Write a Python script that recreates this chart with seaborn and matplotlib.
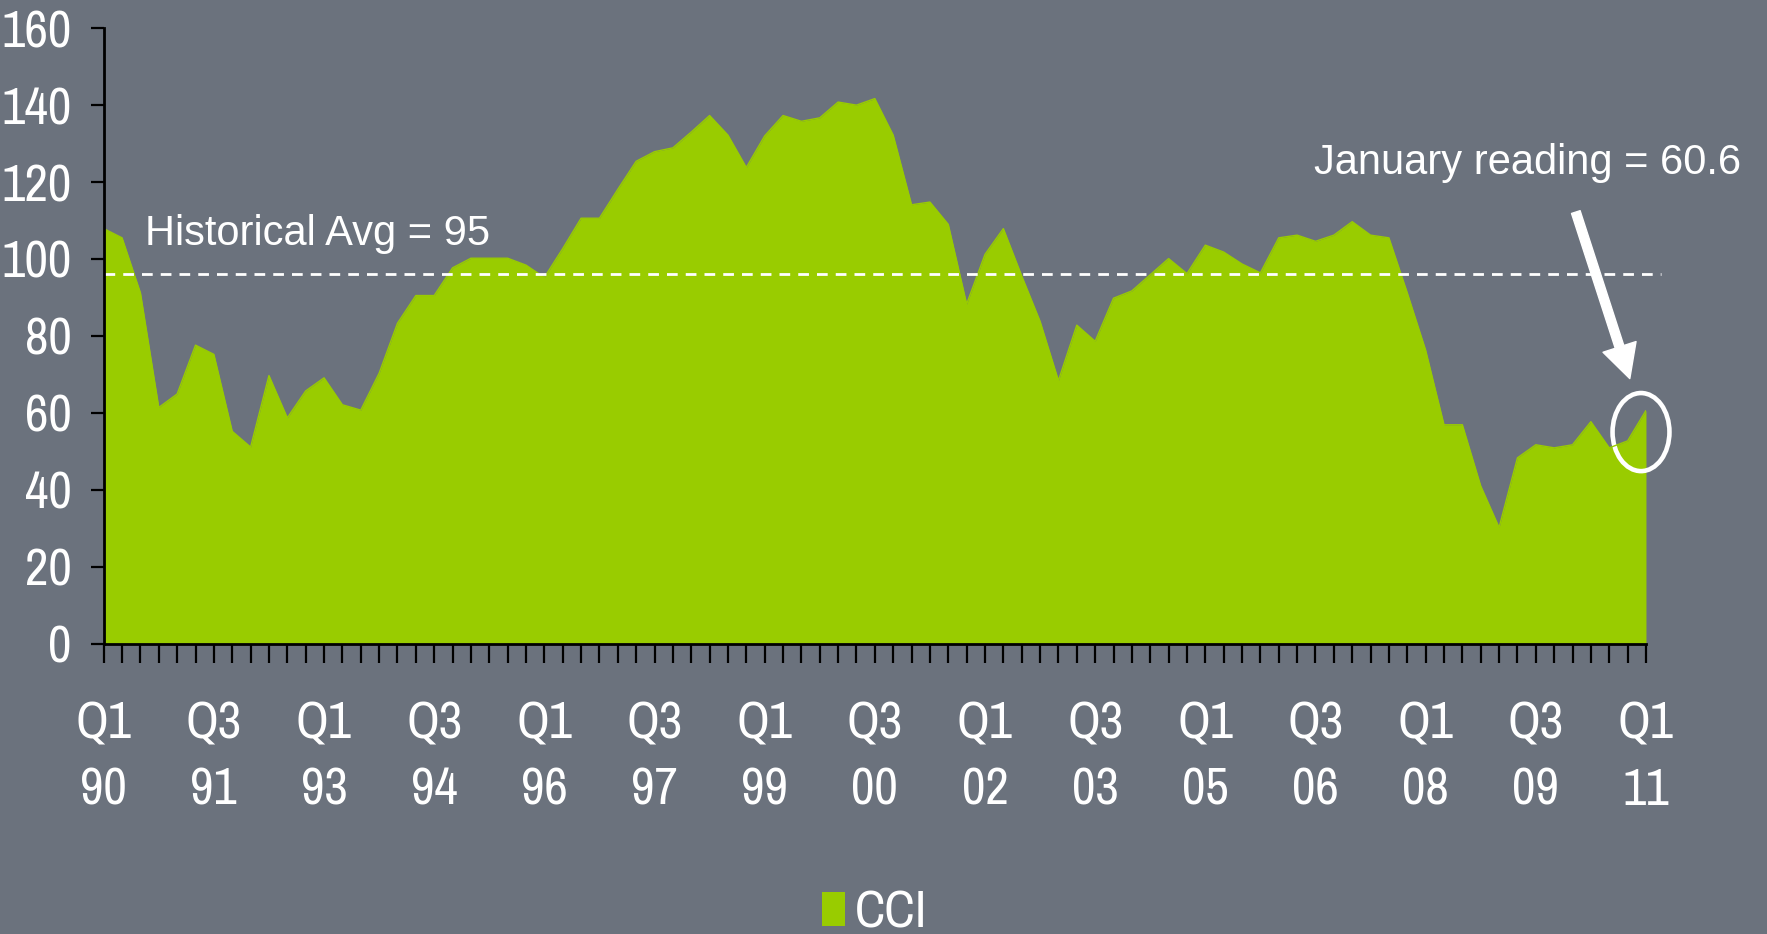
import matplotlib
matplotlib.use("Agg")
import matplotlib.pyplot as plt
from matplotlib.patches import Ellipse
import numpy as np
import pandas as pd
import seaborn as sns

# CCI, quarterly Q1 1990 .. Q1 2011
cci = [107.9, 105.5, 91.2, 61.4,
       64.9, 77.6, 75.2, 55.2,
       51.1, 69.7, 58.7, 65.7,
       69.1, 62.1, 60.7, 70.3,
       83.3, 90.5, 90.5, 97.7,
       100.2, 100.2, 100.2, 98.4,
       95.2, 102.7, 110.6, 110.6,
       118.1, 125.4, 127.9, 128.9,
       133.0, 137.3, 132.2, 123.8,
       132.0, 137.3, 135.8, 136.7,
       140.8, 140.0, 141.7, 132.2,
       114.1, 114.8, 109.0, 88.3,
       101.2, 107.9, 95.6, 83.8,
       68.4, 82.8, 78.6, 89.8,
       91.7, 95.9, 100.1, 96.2,
       103.6, 101.8, 98.7, 96.4,
       105.5, 106.2, 104.6, 106.2,
       109.7, 106.2, 105.5, 91.2,
       76.3, 56.9, 56.9, 41.0,
       30.2, 48.3, 51.7, 50.9,
       51.7, 57.7, 50.9, 52.7,
       60.6]
hist_avg = 96
x_labels = ["Q1\n90", "Q3\n91", "Q1\n93", "Q3\n94", "Q1\n96", "Q3\n97", "Q1\n99", "Q3\n00",
            "Q1\n02", "Q3\n03", "Q1\n05", "Q3\n06", "Q1\n08", "Q3\n09", "Q1\n11"]
y_ticks = [0, 20, 40, 60, 80, 100, 120, 140, 160]

bg = "#6B727D"
green = "#99CC00"

sns.set_theme(style="ticks")
narrow = ["Archivo Narrow", "Roboto Condensed", "Liberation Sans", "DejaVu Sans"]
plt.rcParams["font.family"] = narrow

df = pd.DataFrame({"t": np.arange(len(cci)), "CCI": cci})

fig = plt.figure(figsize=(17.67, 9.34), dpi=100, facecolor=bg)
ax = fig.add_axes([0.0587, 0.3109, 0.8728, 0.6589])
ax.set_facecolor(bg)

sns.lineplot(data=df, x="t", y="CCI", color=green, lw=1, ax=ax, legend=False)
ax.fill_between(df["t"], 0, df["CCI"], color=green, lw=0, label="CCI")

ax.plot([0, 84.8], [hist_avg, hist_avg], color="white", lw=2, dashes=(3.85, 2.9), clip_on=False)

ax.set_xlim(0, len(cci) - 1)
ax.set_ylim(0, 160)
ax.set_xlabel("")
ax.set_ylabel("")

ax.set_xticks(df["t"], minor=True)
ax.set_xticks(df["t"][::6], x_labels)
ax.set_yticks(y_ticks)
ax.tick_params(axis="x", which="both", length=14, width=1.6, color="black", direction="out")
ax.tick_params(axis="x", which="major", labelsize=37, labelcolor="white", pad=27)
ax.tick_params(axis="y", length=9.4, width=1.6, color="black", direction="out",
               labelsize=37, labelcolor="white", pad=13.7)
for lbl in ax.get_xticklabels():
    lbl.set_linespacing(1.5)

for s in ["top", "right"]:
    ax.spines[s].set_visible(False)
for s in ["left", "bottom"]:
    ax.spines[s].set_color("black")
    ax.spines[s].set_linewidth(2)

reg = ["Liberation Sans", "DejaVu Sans"]
ax.text(2.25, 103.7, "Historical Avg = 95", color="white", fontsize=30, family=reg, va="baseline")
ax.text(65.9, 122.2, "January reading = 60.6", color="white", fontsize=30, family=reg,
        va="baseline", clip_on=False)

ax.annotate("", xy=(83.12, 68.9), xytext=(80.18, 112.2),
            arrowprops=dict(facecolor="white", edgecolor="white", width=6.5,
                            headwidth=25, headlength=24, shrink=0),
            annotation_clip=False)
ax.add_patch(Ellipse((83.73, 55.0), 3.1, 20.3, fill=False, ec="white", lw=3.3, clip_on=False))

fig.legend(loc="lower center", bbox_to_anchor=(0.495, -0.03), frameon=False, fontsize=37,
           labelcolor="white", handlelength=0.45, handleheight=0.65, handletextpad=0.2,
           borderpad=0)

fig.savefig("out.png", dpi=100, facecolor=bg)
